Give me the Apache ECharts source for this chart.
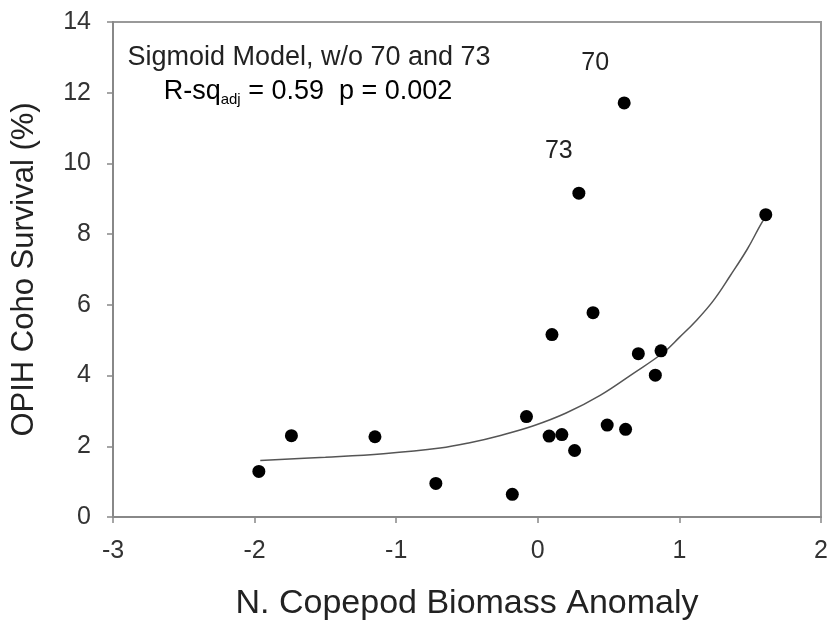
<!DOCTYPE html>
<html>
<head>
<meta charset="utf-8">
<script src="https://cdn.jsdelivr.net/npm/echarts@6/dist/echarts.min.js"></script>
<style>
html,body{margin:0;padding:0;background:#fff;}
#c{width:831px;height:626px;}
</style>
</head>
<body>
<div id="c"></div>
<script>
// Observed points (N. Copepod Biomass Anomaly vs OPIH Coho Survival %)
const copepodX = [-1.97, -1.74, -1.15, -0.72, -0.18, -0.08, 0.10, 0.08, 0.17, 0.26, 0.39, 0.49, 0.62, 0.71, 0.87, 0.83, 1.61];
const survivalY = [1.29, 2.30, 2.27, 0.95, 0.64, 2.84, 5.16, 2.29, 2.33, 1.88, 5.78, 2.60, 2.48, 4.62, 4.70, 4.01, 8.55];
// Excluded years (labelled)
const outlierX = [0.61, 0.29];
const outlierY = [11.71, 9.16];
const outlierLabels = ['70', '73'];
// Fitted sigmoid curve
const fitX = [-1.96, -1.50, -1.09, -0.69, -0.48, -0.27, -0.03, 0.20, 0.44, 0.67, 0.89, 1.00, 1.12, 1.24, 1.36, 1.48, 1.57, 1.61];
const fitY = [1.60, 1.69, 1.79, 1.95, 2.10, 2.30, 2.58, 2.94, 3.44, 4.05, 4.66, 5.08, 5.56, 6.12, 6.83, 7.58, 8.24, 8.50];
// Axis ticks
const xTicks = [-3, -2, -1, 0, 1, 2];
const yTicks = [0, 2, 4, 6, 8, 10, 12, 14];
const xTitle = 'N. Copepod Biomass Anomaly';
const yTitle = 'OPIH Coho Survival (%)';

const FONT = 'Liberation Sans, Arial, sans-serif';
const chart = echarts.init(document.getElementById('c'), null, {renderer: 'canvas'});

const pts = copepodX.map((x, i) => [x, survivalY[i]]);
const outPts = outlierX.map((x, i) => ({
  value: [x, outlierY[i]],
  label: {
    show: true,
    formatter: outlierLabels[i],
    position: 'top',
    offset: i === 0 ? [-29, -16] : [-20, -18],
    fontSize: 25,
    fontFamily: FONT,
    color: '#222'
  }
}));
const fitPts = fitX.map((x, i) => [x, fitY[i]]);

const axisCommon = {
  type: 'value',
  axisLine: {show: true, onZero: false, lineStyle: {color: '#888', width: 2}},
  axisTick: {show: true, inside: false, length: 6, lineStyle: {color: '#888', width: 1.5}},
  splitLine: {show: false},
  axisLabel: {fontSize: 25, color: '#333', fontFamily: FONT, margin: 22}
};

chart.setOption({
  backgroundColor: '#fff',
  animation: false,
  grid: {left: 113, right: 10, top: 22, bottom: 109, show: true, borderColor: '#999', borderWidth: 2},
  xAxis: Object.assign({}, axisCommon, {
    min: xTicks[0], max: xTicks[xTicks.length - 1], interval: 1,
    name: xTitle, nameLocation: 'middle', nameGap: 70,
    nameTextStyle: {fontSize: 34, color: '#222', fontFamily: FONT}
  }),
  yAxis: Object.assign({}, axisCommon, {
    min: yTicks[0], max: yTicks[yTicks.length - 1], interval: 2,
    name: yTitle, nameLocation: 'middle', nameGap: 73,
    nameTextStyle: {fontSize: 31, color: '#222', fontFamily: FONT}
  }),
  series: [
    {
      type: 'line',
      data: fitPts,
      smooth: 0.4,
      showSymbol: false,
      symbol: 'none',
      lineStyle: {color: '#555', width: 1.5},
      z: 2
    },
    {
      type: 'scatter',
      data: pts,
      symbol: 'circle',
      symbolSize: 13,
      itemStyle: {color: '#000', opacity: 1},
      z: 3
    },
    {
      type: 'scatter',
      data: outPts,
      symbol: 'circle',
      symbolSize: 13,
      itemStyle: {color: '#000', opacity: 1},
      z: 3
    }
  ],
  graphic: [
    {
      type: 'text',
      x: 309, y: 58,
      style: {
        text: 'Sigmoid Model, w/o 70 and 73',
        font: '27px ' + FONT,
        fill: '#222',
        textAlign: 'center',
        textVerticalAlign: 'middle'
      }
    },
    {
      type: 'text',
      x: 308, y: 92,
      style: {
        text: '{a|R-sq}{s|adj}{a| = 0.59  p = 0.002}',
        textAlign: 'center',
        textVerticalAlign: 'middle',
        rich: {
          a: {fontSize: 27, fontFamily: FONT, color: '#222', lineHeight: 30},
          s: {fontSize: 15, fontFamily: FONT, color: '#222', lineHeight: 16, verticalAlign: 'bottom'}
        }
      }
    }
  ]
});
</script>
</body>
</html>
